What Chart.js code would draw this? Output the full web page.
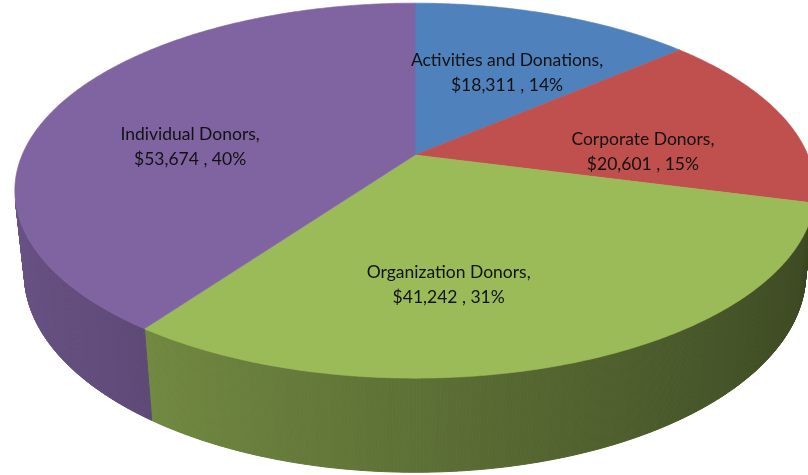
<!DOCTYPE html>
<html>
<head>
<meta charset="utf-8">
<script src="https://cdn.jsdelivr.net/npm/chart.js@4/dist/chart.umd.min.js"></script>
<style>
  html, body { margin: 0; padding: 0; background: #ffffff; }
  #c { display: block; }
</style>
</head>
<body>
<canvas id="c" width="808" height="475"></canvas>
<script>
// ---- data ----
const categories = ['Activities and Donations', 'Corporate Donors', 'Organization Donors', 'Individual Donors'];
const amounts = [18311, 20601, 41242, 53674];
const percents = [14, 15, 31, 40];
const sliceColors = ['#4F81BD', '#C0504D', '#9BBB59', '#8064A2'];

// ---- 3D projection settings (perspective view of the pie disk) ----
const VIEW = { cx: 415, cy: 155, r: 0.214, sinT: 0.46, cosT: 0.888, F: 1836, H: 0.24 };
const LABEL_RHO = 0.6;
const LABEL_NUDGE = [[3, 7], [4, 21], [-56, 16], [-8, 24]];

function proj(u, v, z) {
  const X = u * VIEW.r, Y = v * VIEW.r, Z = z * VIEW.r;
  const d = 1 + Y * VIEW.cosT - Z * VIEW.sinT;
  const yc = Y * VIEW.sinT + Z * VIEW.cosT;
  return [VIEW.cx + VIEW.F * X / d, VIEW.cy - VIEW.F * yc / d];
}
function pt(phi, rho, z) { return proj(rho * Math.cos(phi), -rho * Math.sin(phi), z); }

function shade(hex, f) {
  const n = parseInt(hex.slice(1), 16);
  const r = Math.round(((n >> 16) & 255) * f), g = Math.round(((n >> 8) & 255) * f), b = Math.round((n & 255) * f);
  return `rgb(${r},${g},${b})`;
}

const pie3d = {
  id: 'pie3d',
  beforeDatasetsDraw(chart) {
    const ctx = chart.ctx;
    const meta = chart.getDatasetMeta(0);
    const ds = chart.data.datasets[0];
    const visLimit = VIEW.r / VIEW.cosT;
    ctx.save();
    // side walls
    meta.data.forEach((arc, i) => {
      const sa = arc.startAngle, ea = arc.endAngle;
      const n = Math.max(1, Math.ceil((ea - sa) / 0.005));
      for (let j = 0; j < n; j++) {
        const a1 = sa + (ea - sa) * j / n, a2 = sa + (ea - sa) * (j + 1) / n;
        const m = (a1 + a2) / 2;
        if (Math.sin(m) <= visLimit) continue;
        const p1 = pt(a1, 1, 0), p2 = pt(a2, 1, 0), p3 = pt(a2, 1, -VIEW.H), p4 = pt(a1, 1, -VIEW.H);
        const col = shade(ds.backgroundColor[i], 0.6 - 0.22 * Math.cos(m));
        ctx.fillStyle = col; ctx.strokeStyle = col; ctx.lineWidth = 1;
        ctx.beginPath();
        ctx.moveTo(p1[0], p1[1]); ctx.lineTo(p2[0], p2[1]); ctx.lineTo(p3[0], p3[1]); ctx.lineTo(p4[0], p4[1]);
        ctx.closePath(); ctx.fill(); ctx.stroke();
      }
    });
    // top faces
    meta.data.forEach((arc, i) => {
      const sa = arc.startAngle, ea = arc.endAngle;
      const n = Math.max(2, Math.ceil((ea - sa) / 0.01));
      ctx.beginPath();
      const c = pt(0, 0, 0);
      ctx.moveTo(c[0], c[1]);
      for (let j = 0; j <= n; j++) {
        const p = pt(sa + (ea - sa) * j / n, 1, 0);
        ctx.lineTo(p[0], p[1]);
      }
      ctx.closePath();
      ctx.fillStyle = ds.backgroundColor[i];
      ctx.strokeStyle = ds.backgroundColor[i];
      ctx.lineWidth = 0.6;
      ctx.fill(); ctx.stroke();
    });
    // labels
    ctx.fillStyle = '#111111';
    ctx.font = '17.5px Lato, "Open Sans", sans-serif';
    ctx.textAlign = 'center';
    ctx.textBaseline = 'middle';
    meta.data.forEach((arc, i) => {
      const m = (arc.startAngle + arc.endAngle) / 2;
      const p = pt(m, LABEL_RHO, 0);
      const x = p[0] + LABEL_NUDGE[i][0], y = p[1] + LABEL_NUDGE[i][1];
      ctx.fillText(categories[i] + ',', x, y - 12.5);
      ctx.fillText('$' + amounts[i].toLocaleString('en-US') + ' , ' + percents[i] + '%', x, y + 12.5);
    });
    ctx.restore();
    return false;
  }
};

new Chart(document.getElementById('c'), {
  type: 'pie',
  data: {
    labels: categories,
    datasets: [{ data: amounts, backgroundColor: sliceColors, borderWidth: 0 }]
  },
  options: {
    responsive: false,
    animation: false,
    plugins: { legend: { display: false }, tooltip: { enabled: false } }
  },
  plugins: [pie3d]
});
</script>
</body>
</html>
